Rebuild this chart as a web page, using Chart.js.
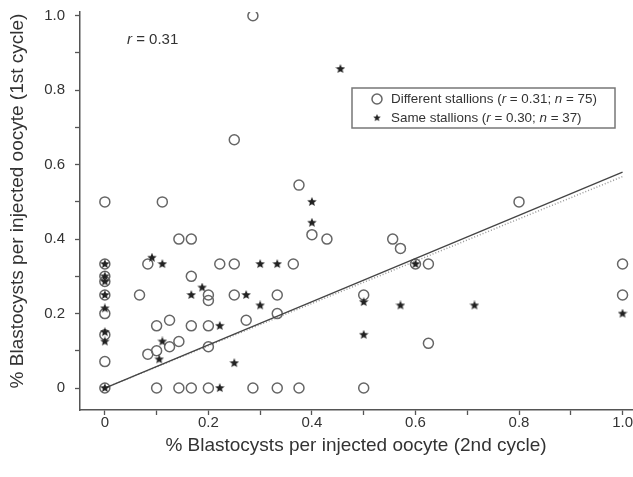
<!DOCTYPE html>
<html>
<head>
<meta charset="utf-8">
<script src="https://cdn.jsdelivr.net/npm/chart.js@4.4.1/dist/chart.umd.min.js"></script>
<style>
  html, body { margin: 0; padding: 0; background: #fff; overflow: hidden; }
  #wrap { width: 633px; height: 477px; overflow: hidden; }
</style>
</head>
<body>
<div id="wrap"><canvas id="chart" width="642" height="477"></canvas></div>
<script>
// values: x = 2nd cycle, y = 1st cycle
const diffX = [0, 0, 0, 0, 0, 0, 0, 0, 0,
  0.111, 0.143, 0.167, 0.083, 0.222, 0.25, 0.364, 0.067, 0.167, 0.2, 0.2, 0.1, 0.125, 0.167, 0.2,
  0.083, 0.1, 0.125, 0.143, 0.2,
  0.1, 0.143, 0.167, 0.2, 0.286, 0.333, 0.375, 0.5,
  0.375, 0.4, 0.429, 0.25, 0.333, 0.273, 0.333, 0.286, 0.25, 0.556, 0.571, 0.6, 0.625, 0.5, 0.625, 0.8, 1, 1];
const diffY = [0.5, 0.333, 0.3, 0.286, 0.25, 0.2, 0.143, 0.071, 0,
  0.5, 0.4, 0.4, 0.333, 0.333, 0.333, 0.333, 0.25, 0.3, 0.25, 0.235, 0.167, 0.182, 0.167, 0.167,
  0.091, 0.1, 0.111, 0.125, 0.111,
  0, 0, 0, 0, 0, 0, 0, 0,
  0.545, 0.412, 0.4, 0.25, 0.25, 0.182, 0.2, 1.0, 0.667, 0.4, 0.375, 0.333, 0.333, 0.25, 0.12, 0.5, 0.333, 0.25];

const sameX = [0, 0, 0, 0, 0, 0, 0, 0,
  0.091, 0.111, 0.188, 0.167, 0.222, 0.111, 0.105, 0.222,
  0.4, 0.4, 0.3, 0.333, 0.273, 0.3, 0.25, 0.455,
  0.6, 0.5, 0.571, 0.714, 0.5, 1];
const sameY = [0.333, 0.3, 0.286, 0.25, 0.214, 0.15, 0.125, 0,
  0.35, 0.333, 0.27, 0.25, 0.167, 0.125, 0.077, 0,
  0.5, 0.444, 0.333, 0.333, 0.25, 0.222, 0.067, 0.857,
  0.333, 0.231, 0.222, 0.222, 0.143, 0.2];

// regression lines (solid = different, dotted = same stallions)
const fitX = [0, 1];
const diffFitY = [0, 0.58];
const sameFitY = [0, 0.568];

const seriesNames = ['Different stallions', 'Same stallions'];
const seriesR = ['0.31', '0.30'];
const seriesN = ['75', '37'];
const overallR = '0.31';

const xTitle = '% Blastocysts per injected oocyte (2nd cycle)';
const yTitle = '% Blastocysts per injected oocyte (1st cycle)';

const tickValues = [0, 0.2, 0.4, 0.6, 0.8, 1.0];
const tickLabels = ['0', '0.2', '0.4', '0.6', '0.8', '1.0'];

const FONT = '"Liberation Sans", Arial, sans-serif';
const AXIS = '#555555';
const TEXT = '#333333';

function toPoints(xs, ys) {
    return xs.map((x, i) => ({ x: x, y: ys[i] }));
}

// filled five point star used as marker
function makeStar(size, color) {
    const c = document.createElement('canvas');
    c.width = size;
    c.height = size;
    const g = c.getContext('2d');
    const cx = size / 2, cy = size / 2, outer = size / 2, inner = size / 4.6;
    g.beginPath();
    for (let i = 0; i < 10; i++) {
        const r = i % 2 === 0 ? outer : inner;
        const a = -Math.PI / 2 + i * Math.PI / 5;
        g.lineTo(cx + r * Math.cos(a), cy + r * Math.sin(a));
    }
    g.closePath();
    g.fillStyle = color;
    g.fill();
    return c;
}
const starImg = makeStar(10, '#222222');

// only every 0.2 gets a label, the 0.1 steps are bare tick marks
function tickLabel(value) {
    const i = tickValues.findIndex(v => Math.abs(v - value) < 1e-6);
    return i >= 0 ? tickLabels[i] : '';
}

// text with italic parts, e.g. the "r" and "n"
function drawRich(ctx, parts, x, y, size) {
    let cx = x;
    parts.forEach(p => {
        ctx.font = (p.italic ? 'italic ' : '') + size + 'px ' + FONT;
        ctx.fillText(p.text, cx, y);
        cx += ctx.measureText(p.text).width;
    });
}

const overlayPlugin = {
    id: 'overlay',
    afterDraw: function (chart) {
        const ctx = chart.ctx;
        ctx.save();
        ctx.fillStyle = TEXT;
        ctx.textBaseline = 'middle';

        // axis titles (placed by hand, the original is not centred on the plot)
        ctx.textAlign = 'center';
        ctx.font = '19px ' + FONT;
        ctx.fillText(xTitle, 356, 446);
        ctx.save();
        ctx.translate(18, 201);
        ctx.rotate(-Math.PI / 2);
        ctx.fillText(yTitle, 0, 0);
        ctx.restore();

        ctx.textAlign = 'left';

        // overall correlation
        drawRich(ctx, [{ text: 'r', italic: true }, { text: ' = ' + overallR }], 127, 40, 15);

        // legend box
        ctx.strokeStyle = '#777777';
        ctx.lineWidth = 1.5;
        ctx.strokeRect(352, 88, 263, 40);

        const rows = [99, 118];
        rows.forEach((y, i) => {
            if (i === 0) {
                ctx.beginPath();
                ctx.arc(377, y, 5, 0, Math.PI * 2);
                ctx.strokeStyle = '#666666';
                ctx.lineWidth = 1.5;
                ctx.stroke();
            } else {
                ctx.drawImage(starImg, 377 - 4, y - 4, 8, 8);
            }
            ctx.fillStyle = TEXT;
            drawRich(ctx, [
                { text: seriesNames[i] + ' (' },
                { text: 'r', italic: true },
                { text: ' = ' + seriesR[i] + '; ' },
                { text: 'n', italic: true },
                { text: ' = ' + seriesN[i] + ')' }
            ], 391, y, 13.4);
        });
        ctx.restore();
    }
};

const axisCommon = {
    type: 'linear',
    grid: {
        drawOnChartArea: false,
        drawTicks: true,
        tickLength: 5,
        tickColor: AXIS,
        tickWidth: 1.3
    },
    border: { display: true, color: AXIS, width: 1.5 },
};

const ctx = document.getElementById('chart').getContext('2d');
new Chart(ctx, {
    type: 'scatter',
    data: {
        datasets: [
            {
                label: seriesNames[1],
                data: toPoints(sameX, sameY),
                pointStyle: starImg,
                pointRadius: 5,
                order: 0
            },
            {
                label: seriesNames[0],
                data: toPoints(diffX, diffY),
                pointStyle: 'circle',
                pointRadius: 5,
                borderColor: '#666666',
                backgroundColor: 'rgba(0,0,0,0)',
                borderWidth: 1.5,
                order: 2
            },
            {
                label: 'fit different',
                data: toPoints(fitX, diffFitY),
                showLine: true,
                pointRadius: 0,
                borderColor: '#444444',
                borderWidth: 1.3,
                order: 1
            },
            {
                label: 'fit same',
                data: toPoints(fitX, sameFitY),
                showLine: true,
                pointRadius: 0,
                borderColor: '#999999',
                borderWidth: 1.5,
                borderDash: [1, 2],
                order: 1
            }
        ]
    },
    options: {
        responsive: false,
        animation: false,
        devicePixelRatio: 1,
        layout: { padding: { top: 12, right: 0, left: 0, bottom: 0 } },
        plugins: {
            legend: { display: false },
            tooltip: { enabled: false }
        },
        scales: {
            x: Object.assign({}, axisCommon, {
                min: -0.048,
                max: 1.025,
                // fixed box, no extra room for the end labels
                afterFit: s => { s.height = 67; s.paddingLeft = 0; s.paddingRight = 0; },
                ticks: {
                    stepSize: 0.1,
                    includeBounds: false,
                    autoSkip: false,
                    maxRotation: 0,
                    minRotation: 0,
                    padding: 0,
                    color: TEXT,
                    font: { family: FONT, size: 15, lineHeight: 1 },
                    callback: v => tickLabel(v)
                }
            }),
            y: Object.assign({}, axisCommon, {
                min: -0.059,
                max: 1.01,
                afterFit: s => { s.width = 80; s.paddingTop = 0; s.paddingBottom = 0; },
                ticks: {
                    stepSize: 0.1,
                    includeBounds: false,
                    autoSkip: false,
                    padding: 10,
                    color: TEXT,
                    font: { family: FONT, size: 15 },
                    callback: v => tickLabel(v)
                }
            })
        }
    },
    plugins: [overlayPlugin]
});
</script>
</body>
</html>
